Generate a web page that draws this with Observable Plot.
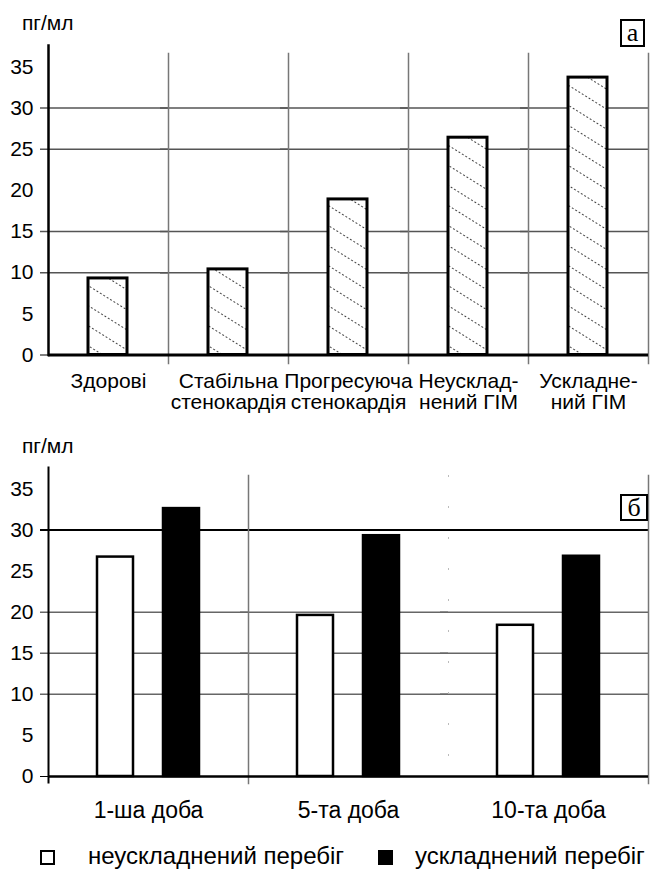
<!DOCTYPE html>
<html>
<head>
<meta charset="utf-8">
<script src="https://cdn.jsdelivr.net/npm/d3@7"></script>
<script src="https://cdn.jsdelivr.net/npm/@observablehq/plot@0.6"></script>
<style>
  body { margin: 0; background: #fff; font-family: "Liberation Sans", Arial, sans-serif; color: #000; }
  #page { position: relative; width: 650px; height: 870px; overflow: hidden; }
  #page svg { position: absolute; left: 0; }
  .unit { position: absolute; left: 22px; font-size: 21px; line-height: 1; }
  .panel { position: absolute; box-sizing: border-box; border: 2px solid #000; background: #fff;
           font-family: "Liberation Serif", "DejaVu Serif", serif; font-size: 26px; line-height: 1;
           display: flex; align-items: center; justify-content: center; }
  .legend { position: absolute; left: 0; top: 844px; width: 650px; height: 24px; font-size: 24px; }
  .legend .sw { position: absolute; top: 6px; width: 15px; height: 15px; box-sizing: border-box; border: 2px solid #000; }
  .legend .lbl { position: absolute; top: 0; line-height: 24px; white-space: nowrap; }
</style>
</head>
<body>
<div id="page"></div>
<script>
// Panel "а": IL level by patient group
const groupsA = ["Здорові", "Стабільна\nстенокардія", "Прогресуюча\nстенокардія", "Неусклад-\nнений ГІМ", "Ускладне-\nний ГІМ"];
const valuesA = [9.3, 10.4, 18.9, 26.4, 33.7];

// Panel "б": dynamics by day, split by course of disease
const days = ["1-ша доба", "5-та доба", "10-та доба"];
const seriesNames = ["неускладнений перебіг", "ускладнений перебіг"];
const uncomplicated = [26.7, 19.6, 18.4];
const complicated = [32.6, 29.3, 26.8];
const seriesColors = ["#fff", "#000"];

// Axis ticks and gridlines
const yTicks = [0, 5, 10, 15, 20, 25, 30, 35];
const yMax = 37.6;
const gridA = [10, 15, 25, 30];
const gridMinorB = [10, 15, 20];
const gridMajorB = [30];
const unitLabel = "пг/мл";

const page = document.getElementById("page");
const font = "Liberation Sans, Arial, sans-serif";

// diagonal dotted hatch used to fill the bars of panel "а"
function hatchDefs() {
  const defs = d3.create("svg:defs");
  const p = defs.append("pattern")
    .attr("id", "hatch")
    .attr("patternUnits", "userSpaceOnUse")
    .attr("width", 16).attr("height", 17)
    .attr("patternTransform", "rotate(32)");
  p.append("rect").attr("width", 16).attr("height", 17).attr("fill", "#fff");
  p.append("line")
    .attr("x1", 0).attr("y1", 8.5).attr("x2", 16).attr("y2", 8.5)
    .attr("stroke", "#444").attr("stroke-width", 1).attr("stroke-dasharray", "2 2");
  return defs.node();
}

const tableA = groupsA.map((g, i) => ({group: g, value: valuesA[i]}));

const chartA = Plot.plot({
  width: 650, height: 420,
  marginTop: 45, marginBottom: 65.5, marginLeft: 48, marginRight: 2,
  style: {fontFamily: font, fontSize: "21px", color: "#000", background: "transparent", overflow: "visible"},
  fx: {domain: groupsA, padding: 0},
  y: {domain: [0, yMax]},
  marks: [
    hatchDefs,
    Plot.ruleY(gridA, {stroke: "#555", strokeWidth: 1.5, insetLeft: -8}),
    Plot.ruleY([0], {stroke: "#000", strokeWidth: 1, insetLeft: -8}),
    Plot.frame({anchor: "right", stroke: "#777", strokeWidth: 1.5, insetTop: 8, insetBottom: -8.5}),
    Plot.barY(tableA, {fx: "group", y: "value", insetLeft: 40, insetRight: 41,
      fill: "url(#hatch)", stroke: "#000", strokeWidth: 3}),
    Plot.ruleY([0], {stroke: "#000", strokeWidth: 3}),
    Plot.frame({anchor: "left", fx: groupsA[0], stroke: "#000", strokeWidth: 2.5}),
    Plot.axisY({ticks: yTicks, tickSize: 0, tickPadding: 15, fontSize: 21, label: null}),
    Plot.axisFx({anchor: "bottom", tickSize: 0, tickPadding: 18, fontSize: 21, lineAnchor: "top", label: null})
  ]
});
chartA.style.top = "0px";
page.appendChild(chartA);

const tableB = days.flatMap((d, i) => [
  {day: d, series: seriesNames[0], value: uncomplicated[i]},
  {day: d, series: seriesNames[1], value: complicated[i]}
]);

const chartB = Plot.plot({
  width: 650, height: 420,
  marginTop: 47, marginBottom: 64, marginLeft: 48, marginRight: 2,
  style: {fontFamily: font, fontSize: "21px", color: "#000", background: "transparent", overflow: "visible"},
  fx: {domain: days, padding: 0},
  x: {domain: seriesNames, paddingInner: 0.4545, paddingOuter: 0.742, axis: null},
  y: {domain: [0, yMax]},
  color: {domain: seriesNames, range: seriesColors},
  marks: [
    Plot.ruleY(gridMinorB, {stroke: "#666", strokeWidth: 1.5, insetLeft: -8}),
    Plot.ruleY(gridMajorB, {stroke: "#000", strokeWidth: 2, insetLeft: -8}),
    Plot.ruleY([0], {stroke: "#000", strokeWidth: 1, insetLeft: -8}),
    Plot.frame({anchor: "right", fx: days[0], stroke: "#777", strokeWidth: 1.5, insetTop: 8, insetBottom: -7}),
    Plot.frame({anchor: "right", fx: days[1], stroke: "#bbb", strokeWidth: 1, strokeDasharray: "1 30", insetTop: 8, insetBottom: -7}),
    Plot.frame({anchor: "right", fx: days[2], stroke: "#777", strokeWidth: 1.5, insetTop: 8, insetBottom: -7}),
    Plot.barY(tableB, {fx: "day", x: "series", y: "value", fill: "series", stroke: "#000", strokeWidth: 2.5}),
    Plot.ruleY([0], {stroke: "#000", strokeWidth: 2.5}),
    Plot.frame({anchor: "left", fx: days[0], stroke: "#000", strokeWidth: 2, insetBottom: -6}),
    Plot.axisY({ticks: yTicks, tickSize: 0, tickPadding: 15, fontSize: 21, label: null}),
    Plot.axisFx({anchor: "bottom", tickSize: 0, tickPadding: 25, fontSize: 23, lineAnchor: "top", label: null})
  ]
});
chartB.style.top = "420px";
page.appendChild(chartB);

// unit labels above each y axis
for (const top of [12, 435]) {
  const u = document.createElement("div");
  u.className = "unit";
  u.style.top = top + "px";
  u.textContent = unitLabel;
  page.appendChild(u);
}

// panel letters
const panels = [
  {text: "а", left: 620, top: 19, width: 25, height: 28},
  {text: "б", left: 620, top: 494, width: 28, height: 27}
];
for (const p of panels) {
  const b = document.createElement("div");
  b.className = "panel";
  Object.assign(b.style, {left: p.left + "px", top: p.top + "px", width: p.width + "px", height: p.height + "px"});
  b.textContent = p.text;
  page.appendChild(b);
}

// legend for panel "б"
const legend = document.createElement("div");
legend.className = "legend";
const legendPos = [{sw: 40, lbl: 88}, {sw: 378, lbl: 415}];
seriesNames.forEach((name, i) => {
  const sw = document.createElement("div");
  sw.className = "sw";
  sw.style.left = legendPos[i].sw + "px";
  sw.style.background = seriesColors[i];
  const lbl = document.createElement("div");
  lbl.className = "lbl";
  lbl.style.left = legendPos[i].lbl + "px";
  lbl.textContent = name;
  legend.appendChild(sw);
  legend.appendChild(lbl);
});
page.appendChild(legend);
</script>
</body>
</html>
